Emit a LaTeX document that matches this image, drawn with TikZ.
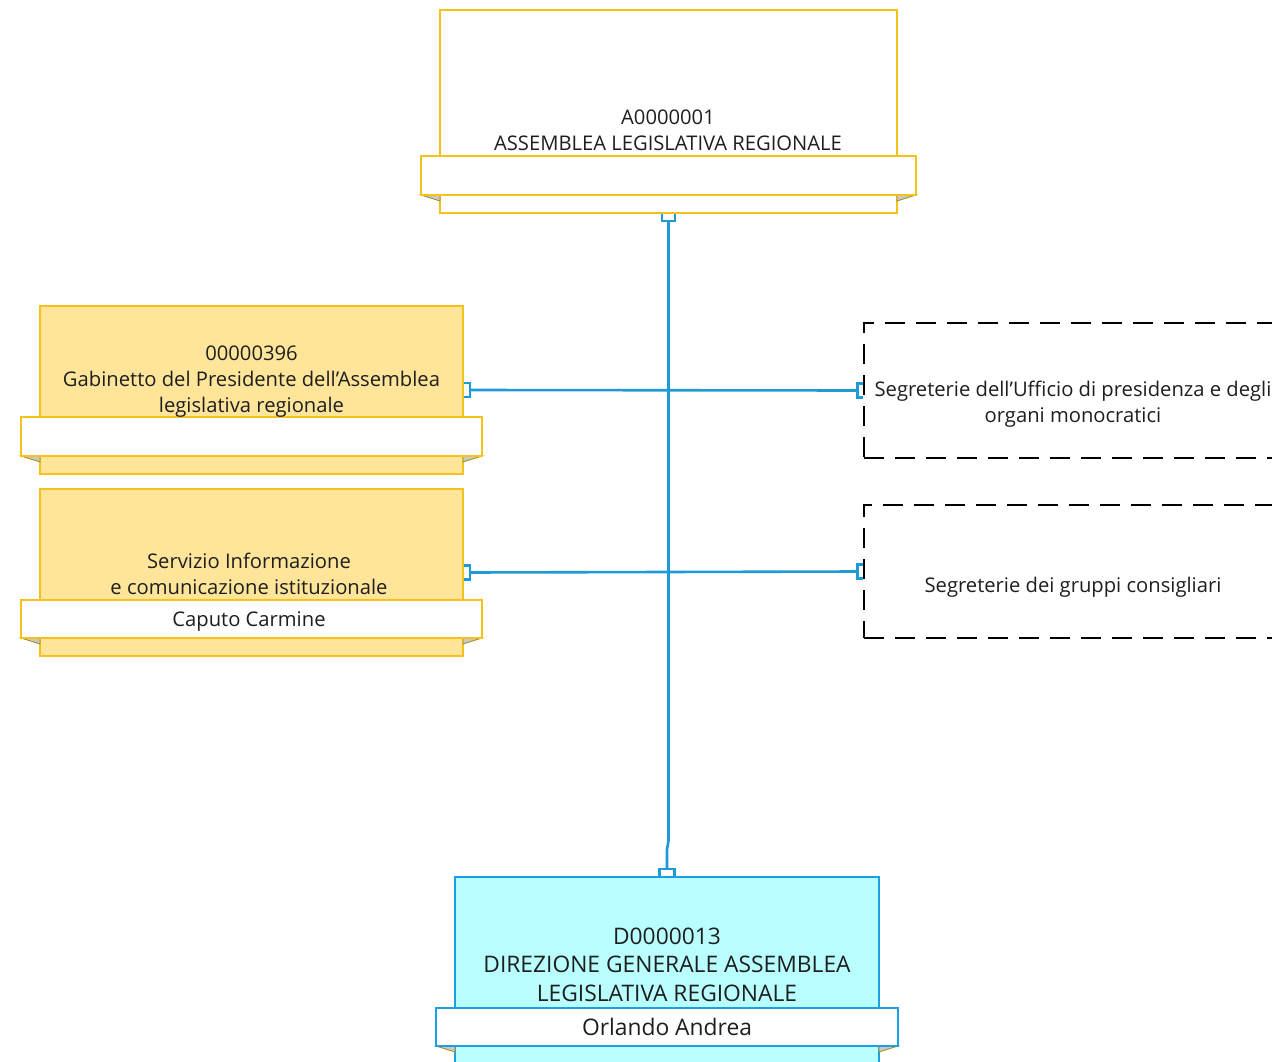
\documentclass[tikz,border=0pt]{standalone}
\usepackage{fontspec}
\setmainfont{Open Sans}
\definecolor{gold}{HTML}{F5C21B}
\definecolor{goldfill}{HTML}{FFE59A}
\definecolor{darkgold}{HTML}{A88A10}
\definecolor{cyanfill}{HTML}{B9FFFF}
\definecolor{cyanline}{HTML}{1BA1E2}
\definecolor{link}{HTML}{1E9AD6}
\definecolor{txt}{HTML}{1E1E1E}
\definecolor{foldgrey}{HTML}{C8C8C8}
\tikzset{
  unitbox/.style={draw=#1, line width=1.3pt, inner sep=0pt},
  banner/.style={draw=#1, fill=white, line width=1.3pt, inner sep=0pt},
  lbl/.style={text=txt, align=center, inner sep=0pt, font=\fontsize{20.2}{26}\selectfont},
  biglbl/.style={text=txt, align=center, inner sep=0pt, font=\fontsize{22.8}{28.5}\selectfont},
  dashbox/.style={draw=black, line width=1.2pt, dash pattern=on 20pt off 11pt, inner sep=0pt},
  conn/.style={draw=link, line width=2.6pt},
  brk/.style={draw=link, line width=2.2pt},
  fold/.style={fill=foldgrey, draw=darkgold, line width=0.8pt}
}
\begin{document}
\begin{tikzpicture}[x=1pt,y=-1pt]
\useasboundingbox (0,0) rectangle (1272,1062);
% ---------- top box
\node[unitbox=gold, fill=white, minimum width=457pt, minimum height=203pt] (top) at (668.5,111.5) {};
\draw[fold] (421,195) -- (440,195) -- (440,201) -- cycle;
\draw[fold] (916,195) -- (897,195) -- (897,201) -- cycle;
\node[banner=gold, minimum width=495pt, minimum height=39pt] (topb) at (668.5,175.5) {};
\node[lbl, anchor=base] (topt) at (668,151) {A0000001\\ASSEMBLEA LEGISLATIVA REGIONALE};
% ---------- left box 1
\node[unitbox=gold, fill=goldfill, minimum width=423pt, minimum height=168pt] (g1) at (251.5,390) {};
\draw[fold] (21,456) -- (40,456) -- (40,462) -- cycle;
\draw[fold] (482,456) -- (463,456) -- (463,462) -- cycle;
\node[banner=gold, minimum width=461pt, minimum height=39pt] (g1b) at (251.5,436.5) {};
\node[lbl, anchor=base] (g1t) at (251.5,412) {00000396\\Gabinetto del Presidente dell’Assemblea\\legislativa regionale};
% ---------- left box 2
\node[unitbox=gold, fill=goldfill, minimum width=423pt, minimum height=167pt] (g2) at (251.5,572.5) {};
\draw[fold] (21,638) -- (40,638) -- (40,644) -- cycle;
\draw[fold] (482,638) -- (463,638) -- (463,644) -- cycle;
\node[banner=gold, minimum width=461pt, minimum height=38pt] (g2b) at (251.5,619) {};
\node[lbl, anchor=base] (g2t) at (249,594) {Servizio Informazione\\e comunicazione istituzionale};
\node[lbl, anchor=base] (g2n) at (249,626) {Caputo Carmine};
% ---------- right dashed boxes
\node[dashbox, minimum width=418pt, minimum height=135pt] (r1) at (1073,390.5) {};
\node[lbl, anchor=base] (r1t) at (1073,422) {Segreterie dell’Ufficio di presidenza e degli\\organi monocratici};
\node[dashbox, minimum width=418pt, minimum height=133pt] (r2) at (1073,571.5) {};
\node[lbl, anchor=base] (r2t) at (1073,592) {Segreterie dei gruppi consigliari};
% ---------- bottom box
\node[unitbox=cyanline, fill=cyanfill, minimum width=424pt, minimum height=200pt] (bot) at (667,977) {};
\draw[fold] (436,1046) -- (455,1046) -- (455,1052) -- cycle;
\draw[fold] (898,1046) -- (879,1046) -- (879,1052) -- cycle;
\node[banner=cyanline, minimum width=462pt, minimum height=38pt] (botb) at (667,1027) {};
\node[biglbl, anchor=base] (bott) at (667,1001) {D0000013\\DIREZIONE GENERALE ASSEMBLEA\\LEGISLATIVA REGIONALE};
\node[biglbl, anchor=base] (botn) at (667,1035) {Orlando Andrea};
% ---------- connectors
\coordinate (vt) at ([yshift=-7pt]top.south);
\coordinate (vb) at ([yshift=7pt]bot.north);
\draw[conn] (vt) -- ++(0,620) -- ([yshift=20pt]vb) -- (vb);
\draw[brk] ([xshift=-6.5pt]top.south) -- ++(0,7) -- ++(13,0) -- ++(0,-7);
\draw[brk] ([xshift=-7.5pt]bot.north) -- ++(0,-7) -- ++(15,0) -- ++(0,7);
% row 1
\draw[conn] ([xshift=6pt]g1.east) -- ([xshift=-6pt]r1.west);
\draw[brk] ([yshift=7pt]g1.east) -- ++(6,0) -- ++(0,14) -- ++(-6,0);
\draw[brk] ([yshift=7pt]r1.west) -- ++(-6,0) -- ++(0,14) -- ++(6,0);
% row 2
\draw[conn] ([xshift=6pt]g2.east) -- ([xshift=-6pt]r2.west);
\draw[brk] ([yshift=7pt]g2.east) -- ++(6,0) -- ++(0,14) -- ++(-6,0);
\draw[brk] ([yshift=7pt]r2.west) -- ++(-6,0) -- ++(0,14) -- ++(6,0);
\end{tikzpicture}
\end{document}
